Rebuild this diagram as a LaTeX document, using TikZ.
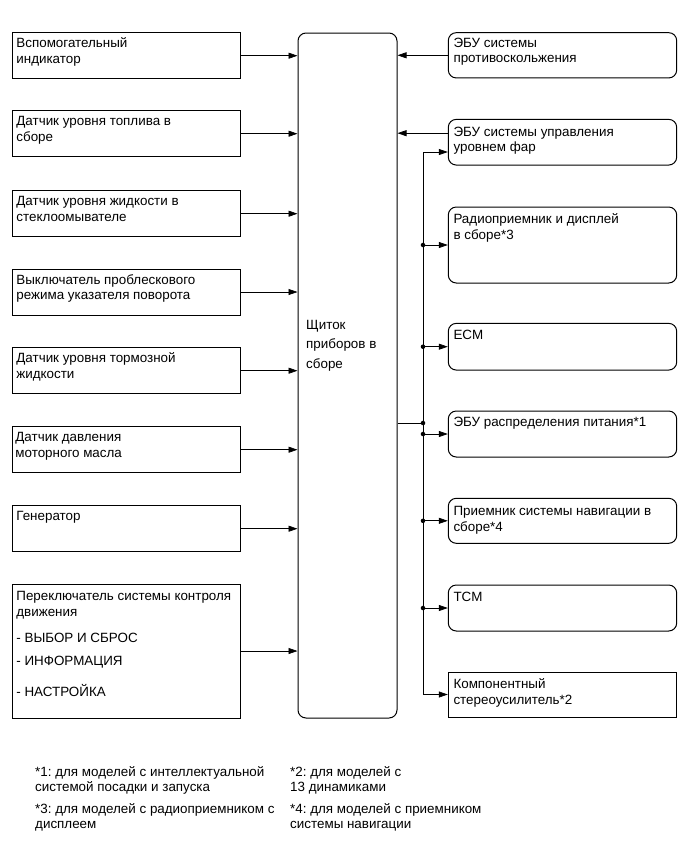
\documentclass[tikz,border=0pt]{standalone}
\usepackage{fontspec}
\setmainfont{Liberation Sans}
\usetikzlibrary{arrows.meta}
\newcommand{\firstln}{\rule{0pt}{12pt}}
\frenchspacing

\begin{document}
\begin{tikzpicture}[
x=1pt, y=-1pt, % toạ độ theo điểm ảnh, trục y hướng xuống
every node/.style={font=\fontsize{13.4}{15.6}\selectfont},
lbox/.style={draw, line width=1pt, inner sep=0pt, minimum width=227.3pt, minimum height=#1},
rbox/.style={lbox=#1, minimum width=228.4pt, rounded corners=8pt},
txt/.style={anchor=north west, align=left, inner sep=0pt},
dot/.style={circle, fill=black, inner sep=1.6pt},
conn/.style={line width=0.7pt, >={Triangle[length=9pt,width=6pt]}, ->}
]
\useasboundingbox (0,0) rectangle (691,855);

% --- Khối trung tâm ---
\node[lbox=685pt, minimum width=99pt, rounded corners=8pt] (cen) at (347.5, 375.5) {};
\node[txt, font=\fontsize{13.4}{19.5}\selectfont] (centxt) at (306, 317) {\firstln Щиток\\приборов в\\сборе};

% --- Các khối bên trái ---
\node[lbox=46pt] (l1) at (126.35, 55.7) {};
\node[lbox=46pt] (l2) at (126.35, 133.7) {};
\node[lbox=46pt] (l3) at (126.35, 213.7) {};
\node[lbox=46pt] (l4) at (126.35, 292) {};
\node[lbox=46pt] (l5) at (126.35, 370.7) {};
\node[lbox=46pt] (l6) at (126.35, 449.7) {};
\node[lbox=46pt] (l7) at (126.35, 528.7) {};
\node[lbox=134pt] (l8) at (126.35, 651) {};

\node[txt] (l1t) at ([xshift=4pt, yshift=-3.5pt]l1.north west) {\firstln Вспомогательный\\индикатор};
\node[txt] (l2t) at ([xshift=4pt, yshift=-3.5pt]l2.north west) {\firstln Датчик уровня топлива в\\сборе};
\node[txt] (l3t) at ([xshift=4pt, yshift=-3.5pt]l3.north west) {\firstln Датчик уровня жидкости в\\стеклоомывателе};
\node[txt] (l4t) at ([xshift=4pt, yshift=-3.5pt]l4.north west) {\firstln Выключатель проблескового\\режима указателя поворота};
\node[txt] (l5t) at ([xshift=4pt, yshift=-3.5pt]l5.north west) {\firstln Датчик уровня тормозной\\жидкости};
\node[txt] (l6t) at ([xshift=3pt, yshift=-3.5pt]l6.north west) {\firstln Датчик давления\\моторного масла};
\node[txt] (l7t) at ([xshift=4pt, yshift=-3.5pt]l7.north west) {\firstln Генератор};
\node[txt] (l8t) at ([xshift=4pt, yshift=-4.7pt]l8.north west) {\firstln Переключатель системы контроля\\движения\\[11.1pt]- ВЫБОР И СБРОС\\[6.7pt]- ИНФОРМАЦИЯ\\[16.1pt]- НАСТРОЙКА};

% Mũi tên từ khối trái vào khối trung tâm
\draw[conn] (l1.east) -- (l1.east -| cen.west);
\draw[conn] (l2.east) -- (l2.east -| cen.west);
\draw[conn] (l3.east) -- (l3.east -| cen.west);
\draw[conn] (l4.east) -- (l4.east -| cen.west);
\draw[conn] (l5.east) -- (l5.east -| cen.west);
\draw[conn] (l6.east) -- (l6.east -| cen.west);
\draw[conn] (l7.east) -- (l7.east -| cen.west);
\draw[conn] (l8.east) -- (l8.east -| cen.west);

% --- Các khối bên phải ---
\node[rbox=45.3pt] (r1) at (562.5, 55.3) {};
\node[rbox=45.7pt] (r2) at (562.5, 142.2) {};
\node[rbox=76pt] (r3) at (562.5, 245) {};
\node[rbox=46.7pt] (r4) at (562.5, 346.7) {};
\node[rbox=46pt] (r5) at (562.5, 434) {};
\node[rbox=45pt] (r6) at (562.5, 520.8) {};
\node[rbox=46pt] (r7) at (562.5, 608) {};
\node[lbox=45pt, minimum width=228.4pt] (r8) at (562.5, 694.5) {};

\node[txt] (r1t) at ([xshift=5.5pt, yshift=-3pt]r1.north west) {\firstln ЭБУ системы\\противоскольжения};
\node[txt] (r2t) at ([xshift=5.5pt, yshift=-5pt]r2.north west) {\firstln ЭБУ системы управления\\уровнем фар};
\node[txt] (r3t) at ([xshift=5.5pt, yshift=-5pt]r3.north west) {\firstln Радиоприемник и дисплей\\в сборе*3};
\node[txt] (r4t) at ([xshift=5.5pt, yshift=-4.7pt]r4.north west) {\firstln ECM};
\node[txt] (r5t) at ([xshift=5.5pt, yshift=-3.7pt]r5.north west) {\firstln ЭБУ распределения питания*1};
\node[txt] (r6t) at ([xshift=5.5pt, yshift=-5.5pt]r6.north west) {\firstln Приемник системы навигации в\\сборе*4};
\node[txt] (r7t) at ([xshift=5.5pt, yshift=-4.7pt]r7.north west) {\firstln TCM};
\node[txt] (r8t) at ([xshift=5.5pt, yshift=-5pt]r8.north west) {\firstln Компонентный\\стереоусилитель*2};

% Mũi tên từ khối phải vào khối trung tâm
\draw[conn] (r1.west) -- (r1.west -| cen.east);
\coordinate (r2in) at ([yshift=9pt]r2.west);
\coordinate (r2out) at ([yshift=-9.8pt]r2.west);
\draw[conn] (r2in) -- (r2in -| cen.east);

% --- Đường bus phân phối ---
\coordinate (bus) at (423, 0);
\coordinate (tap) at (423, 423);
\draw[conn, <->] (r2out) -- (bus |- r2out) -- (bus |- r8.west) -- (r8.west);
\draw[line width=0.7pt] (tap -| cen.east) -- (tap);
\node[dot] (dtap) at (tap) {};

\draw[conn] (bus |- r3.west) -- (r3.west);
\draw[conn] (bus |- r4.west) -- (r4.west);
\draw[conn] (bus |- r5.west) -- (r5.west);
\draw[conn] (bus |- r6.west) -- (r6.west);
\draw[conn] (bus |- r7.west) -- (r7.west);
\node[dot] (d3) at (bus |- r3.west) {};
\node[dot] (d4) at (bus |- r4.west) {};
\node[dot] (d5) at (bus |- r5.west) {};
\node[dot] (d6) at (bus |- r6.west) {};
\node[dot] (d7) at (bus |- r7.west) {};

% --- Chú thích ---
\node[txt, font=\fontsize{13.4}{15}\selectfont] (n1) at (35, 764.7) {\firstln *1: для моделей с интеллектуальной\\системой посадки и запуска};
\node[txt, font=\fontsize{13.4}{15}\selectfont] (n3) at (35, 801.3) {\firstln *3: для моделей с радиоприемником с\\дисплеем};
\node[txt, font=\fontsize{13.4}{15}\selectfont] (n2) at (290, 764.7) {\firstln *2: для моделей с\\13 динамиками};
\node[txt, font=\fontsize{13.4}{15}\selectfont] (n4) at (290, 801.3) {\firstln *4: для моделей с приемником\\системы навигации};

\end{tikzpicture}
\end{document}
